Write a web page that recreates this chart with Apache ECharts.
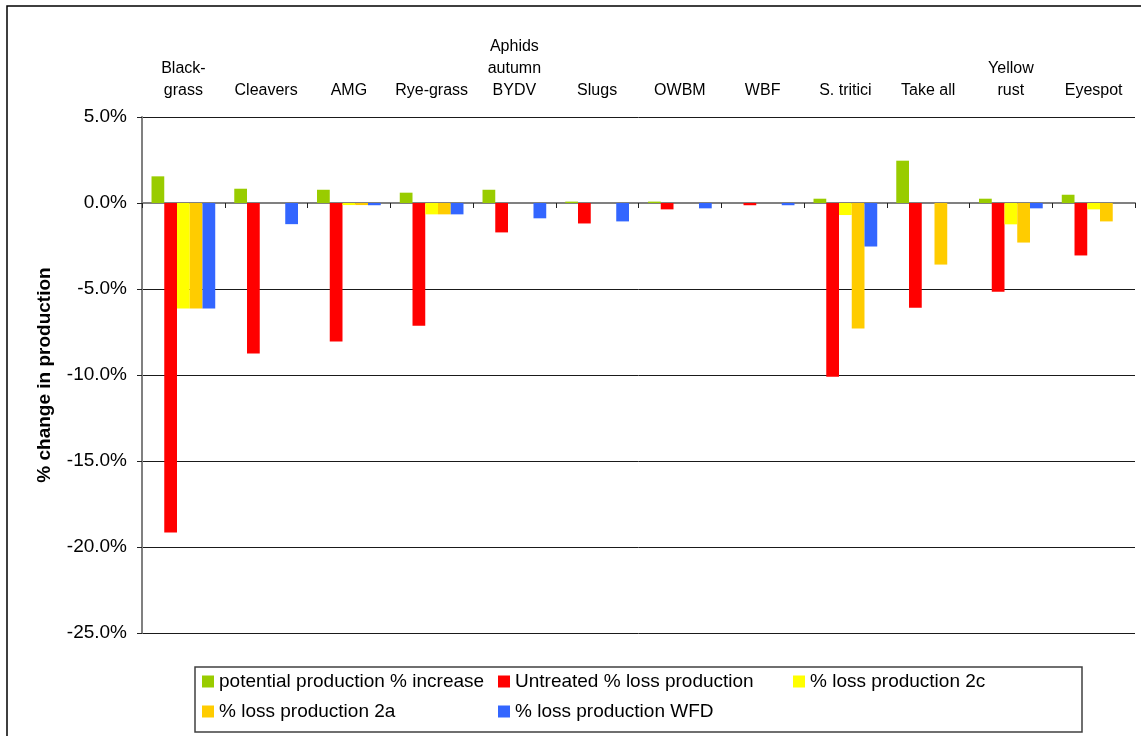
<!DOCTYPE html>
<html>
<head>
<meta charset="utf-8">
<script src="https://cdn.jsdelivr.net/npm/echarts@6/dist/echarts.min.js"></script>
<style>
  html, body { margin: 0; padding: 0; background: #fff; }
  #chart { width: 1141px; height: 736px; }
</style>
</head>
<body>
<div id="chart"></div>
<script>
// Crop categories (top labels)
const categories = ['Black-\ngrass', 'Cleavers', 'AMG', 'Rye-grass', 'Aphids\nautumn\nBYDV', 'Slugs', 'OWBM', 'WBF', 'S. tritici', 'Take all', 'Yellow\nrust', 'Eyespot'];

// Series values, % change in production
const potentialIncrease = [1.55, 0.83, 0.77, 0.60, 0.77, 0.08, 0.08, 0, 0.25, 2.46, 0.25, 0.48];
const untreatedLoss     = [-19.15, -8.75, -8.05, -7.13, -1.71, -1.19, -0.37, -0.13, -10.1, -6.09, -5.16, -3.05];
const loss2c            = [-6.13, 0, -0.12, -0.66, 0, 0, 0, 0, -0.70, 0, -1.24, -0.37];
const loss2a            = [-6.13, 0, -0.12, -0.66, 0, 0, 0, 0, -7.30, -3.58, -2.30, -1.07];
const lossWFD           = [-6.13, -1.23, -0.13, -0.66, -0.89, -1.07, -0.31, -0.13, -2.53, 0, -0.31, 0];

const seriesNames = ['potential production % increase', 'Untreated % loss production', '% loss production 2c', '% loss production 2a', '% loss production WFD'];
const seriesColors = ['#99CC00', '#FF0000', '#FFFF00', '#FFCC00', '#3366FF'];
const seriesData = [potentialIncrease, untreatedLoss, loss2c, loss2a, lossWFD];

// Y axis range and step
const yMin = -25, yMax = 5, yStep = 5;

const FONT = '"Liberation Sans", Arial, sans-serif';

// Legend slots: three columns, two rows
const legendPos = [
  { left: 202, top: 672 },
  { left: 498, top: 672 },
  { left: 793, top: 672 },
  { left: 202, top: 702 },
  { left: 498, top: 702 }
];

const chart = echarts.init(document.getElementById('chart'), null, { renderer: 'canvas' });

const option = {
  backgroundColor: '#fff',
  animation: false,
  grid: { left: 142, right: 6, top: 117, bottom: 103, containLabel: false },
  xAxis: [
    {
      type: 'category',
      data: categories,
      position: 'bottom',
      axisLine: { onZero: true, lineStyle: { color: '#808080', width: 2 } },
      axisTick: { show: true, length: 5, lineStyle: { color: '#222', width: 1 } },
      axisLabel: { show: false },
      splitLine: { show: false }
    },
    {
      type: 'category',
      data: categories,
      position: 'top',
      axisLine: { show: false },
      axisTick: { show: false },
      splitLine: { show: false },
      axisLabel: {
        show: true,
        margin: 15,
        interval: 0,
        fontFamily: FONT,
        fontSize: 16,
        lineHeight: 22,
        color: '#000',
        align: 'center'
      }
    }
  ],
  yAxis: {
    type: 'value',
    min: yMin,
    max: yMax,
    interval: yStep,
    axisLine: { show: true, lineStyle: { color: '#808080', width: 2 } },
    axisTick: { show: true, length: 5, lineStyle: { color: '#222', width: 1 } },
    axisLabel: {
      margin: 15,
      fontFamily: FONT,
      fontSize: 19,
      color: '#000',
      formatter: v => v.toFixed(1) + '%'
    },
    splitLine: { show: true, lineStyle: { color: '#1a1a1a', width: 1 } }
  },
  legend: seriesNames.map((name, i) => ({
    data: [name],
    left: legendPos[i].left,
    top: legendPos[i].top,
    orient: 'horizontal',
    padding: 0,
    icon: 'rect',
    itemWidth: 12,
    itemHeight: 12,
    selectedMode: false,
    textStyle: { fontFamily: FONT, fontSize: 19, color: '#000', padding: [0, 0, 0, 0] }
  })),
  series: seriesNames.map((name, i) => ({
    name: name,
    type: 'bar',
    xAxisIndex: 0,
    data: seriesData[i],
    barGap: '0%',
    barCategoryGap: '23%',
    itemStyle: { color: seriesColors[i] }
  })),
  graphic: [
    {
      type: 'rect',
      shape: { x: 7, y: 6, width: 1300, height: 900 },
      style: { fill: 'none', stroke: '#000', lineWidth: 1.5 },
      z: 100
    },
    {
      type: 'rect',
      shape: { x: 195, y: 667, width: 887, height: 65 },
      style: { fill: 'none', stroke: '#404040', lineWidth: 1.5 },
      z: 100
    },
    {
      type: 'text',
      x: 45,
      y: 375,
      rotation: Math.PI / 2,
      style: {
        text: '% change in production',
        font: 'bold 19px ' + FONT,
        fill: '#000',
        textAlign: 'center',
        textVerticalAlign: 'middle'
      },
      z: 100
    }
  ]
};

chart.setOption(option);
</script>
</body>
</html>
